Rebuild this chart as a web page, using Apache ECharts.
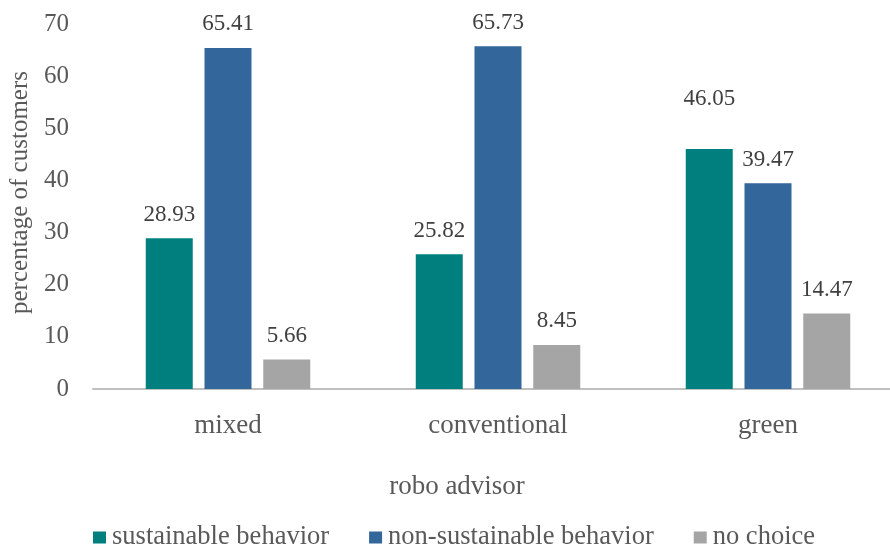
<!DOCTYPE html>
<html>
<head>
<meta charset="utf-8">
<script src="https://cdn.jsdelivr.net/npm/echarts@6/dist/echarts.min.js"></script>
<style>
  html, body { margin: 0; padding: 0; background: #fff; }
  #container { width: 890px; height: 546px; }
</style>
</head>
<body>
<div id="container"></div>
<script>
var dom = document.getElementById('container');
var myChart = echarts.init(dom, null, { renderer: 'canvas' });

// data
var categories = ['mixed', 'conventional', 'green'];
var sustainable = [28.93, 25.82, 46.05];
var nonSustainable = [65.41, 65.73, 39.47];
var noChoice = [5.66, 8.45, 14.47];

var seriesNames = ['sustainable behavior', 'non-sustainable behavior', 'no choice'];
var colors = ['#007F7F', '#33669A', '#A5A5A5'];

var font = 'Liberation Serif';

function makeBar(name, values, color) {
    return {
        name: name,
        type: 'bar',
        barWidth: 47,
        barGap: '25%',
        itemStyle: { color: color },
        label: {
            show: true,
            position: 'top',
            distance: 12,
            fontFamily: font,
            fontSize: 23,
            color: '#404040',
            formatter: function (p) { return p.value.toFixed(2); }
        },
        data: values.slice()
    };
}

var series = [
    makeBar(seriesNames[0], sustainable, colors[0]),
    makeBar(seriesNames[1], nonSustainable, colors[1]),
    makeBar(seriesNames[2], noChoice, colors[2])
];
// the label of the green / sustainable bar sits higher in the original
series[0].data[2] = { value: sustainable[2], label: { offset: [0, -26] } };

var option = {
    backgroundColor: '#ffffff',
    animation: false,
    textStyle: { fontFamily: font },
    grid: { left: 93, top: 24, bottom: 157, width: 810, containLabel: false, outerBoundsMode: 'none' },
    legend: {
        left: 93,
        top: 524,
        padding: 0,
        itemWidth: 13,
        itemHeight: 12,
        itemGap: 40,
        icon: 'rect',
        textStyle: { fontFamily: font, fontSize: 26.5, color: '#595959', padding: [0, 0, 0, 1] },
        data: seriesNames
    },
    xAxis: {
        type: 'category',
        data: categories,
        name: 'robo advisor',
        nameLocation: 'middle',
        nameGap: 84,
        nameTextStyle: { fontFamily: font, fontSize: 27, color: '#595959', padding: [0, 82, 0, 0] },
        axisLine: { lineStyle: { color: '#BFBFBF', width: 2 } },
        axisTick: { show: false },
        axisLabel: { fontFamily: font, fontSize: 27, color: '#595959', margin: 23 }
    },
    yAxis: {
        type: 'value',
        min: 0,
        max: 70,
        interval: 10,
        name: 'percentage of customers',
        nameLocation: 'middle',
        nameGap: 58,
        nameTextStyle: { fontFamily: font, fontSize: 25, color: '#595959', padding: [0, 0, 0, 28] },
        axisLine: { show: false },
        axisTick: { show: false },
        splitLine: { show: false },
        axisLabel: { fontFamily: font, fontSize: 25, color: '#595959', margin: 24 }
    },
    series: series
};

myChart.setOption(option);
window.addEventListener('resize', myChart.resize);
</script>
</body>
</html>
